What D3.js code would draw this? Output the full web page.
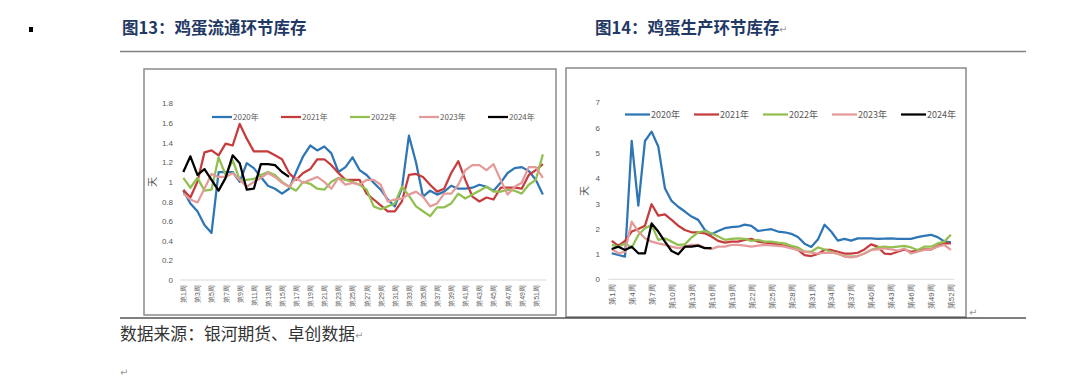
<!DOCTYPE html>
<html>
<head>
<meta charset="utf-8">
<script src="https://cdn.jsdelivr.net/npm/d3@7/dist/d3.min.js"></script>
<style>
  body { margin: 0; background: #fff; }
  svg { display: block; font-family: "Noto Sans CJK SC", "Noto Sans", sans-serif; }
</style>
</head>
<body>
<svg id="page" width="1080" height="380"></svg>
<script>
// weeks 1..52
const weeks = d3.range(1, 53);
const years = ["2020年", "2021年", "2022年", "2023年", "2024年"];
const colors = ["#2e75b6", "#c63c3c", "#92c050", "#e59a9a", "#000000"];

// 图13 鸡蛋流通环节库存 (天)
const flow2020 = [0.91,0.78,0.70,0.56,0.48,1.10,1.10,1.10,1.00,1.19,1.14,1.05,0.96,0.93,0.88,0.93,1.10,1.26,1.37,1.32,1.36,1.29,1.10,1.15,1.25,1.12,1.07,0.99,0.92,0.82,0.75,0.93,1.47,1.20,0.85,0.91,0.87,0.90,0.96,0.93,0.93,0.94,0.97,0.95,0.91,0.99,1.09,1.14,1.15,1.11,1.02,0.87];
const flow2021 = [0.92,0.84,1.00,1.30,1.32,1.27,1.39,1.37,1.59,1.44,1.31,1.31,1.31,1.27,1.23,1.09,1.02,1.09,1.13,1.23,1.23,1.17,1.09,1.02,1.02,1.02,0.88,0.82,0.76,0.70,0.70,0.80,1.07,1.08,1.05,0.97,0.90,0.93,1.09,1.21,1.02,0.85,0.80,0.84,0.82,0.94,0.94,0.94,0.93,1.07,1.12,1.18];
const flow2022 = [1.04,0.94,1.04,0.91,0.92,1.25,1.07,1.22,1.02,1.02,1.03,1.07,1.10,1.07,1.00,0.95,0.91,1.00,0.98,0.93,0.92,1.00,1.04,1.02,1.00,0.97,0.92,0.75,0.72,0.75,0.78,0.95,0.86,0.75,0.70,0.65,0.74,0.74,0.78,0.88,0.83,0.87,0.91,0.95,0.90,0.90,0.92,0.91,0.88,0.97,1.02,1.28];
const flow2023 = [0.88,0.82,0.79,0.93,1.08,1.05,1.05,1.09,1.02,0.95,1.00,1.04,1.09,1.05,0.99,0.95,1.04,0.99,1.02,1.05,1.00,0.93,1.04,0.97,0.99,0.97,1.02,1.02,0.97,0.80,0.82,0.83,0.87,0.90,0.85,0.75,0.78,0.88,0.88,0.97,1.12,1.17,1.17,1.12,1.18,1.02,0.87,0.95,0.99,1.15,1.15,1.04];
const flow2024 = [1.10,1.26,1.07,1.13,1.02,0.91,1.04,1.27,1.19,0.92,0.93,1.18,1.18,1.17,1.10,1.05];

// 图14 鸡蛋生产环节库存 (天)
const prod2020 = [1.03,0.96,0.90,5.47,2.91,5.47,5.84,5.25,3.60,3.10,2.87,2.68,2.48,2.35,1.95,1.78,1.91,2.02,2.06,2.08,2.16,2.11,1.91,1.95,1.98,1.89,1.86,1.80,1.67,1.41,1.28,1.57,2.16,1.89,1.53,1.60,1.53,1.62,1.62,1.62,1.60,1.61,1.62,1.60,1.60,1.60,1.67,1.72,1.76,1.67,1.50,1.46];
const prod2021 = [1.52,1.32,1.52,1.89,1.99,2.12,2.97,2.52,2.57,2.35,2.12,1.95,1.86,1.86,1.82,1.69,1.52,1.45,1.49,1.49,1.56,1.60,1.49,1.45,1.42,1.38,1.32,1.26,1.16,0.96,0.92,1.00,1.16,1.16,1.09,1.02,1.02,1.05,1.18,1.38,1.29,1.02,1.00,1.09,1.18,1.09,1.13,1.18,1.18,1.32,1.42,1.42];
const prod2022 = [1.36,1.29,1.42,1.25,1.75,2.02,2.15,1.56,1.62,1.49,1.36,1.38,1.65,1.86,1.91,1.82,1.69,1.56,1.60,1.62,1.60,1.52,1.56,1.49,1.49,1.45,1.42,1.32,1.26,1.09,1.09,1.26,1.18,1.09,1.00,0.92,0.90,0.92,1.02,1.16,1.26,1.29,1.26,1.29,1.32,1.26,1.16,1.29,1.29,1.42,1.49,1.76];
const prod2023 = [1.20,1.03,1.09,2.28,1.89,1.62,1.49,1.42,1.36,1.29,1.23,1.29,1.36,1.36,1.25,1.20,1.29,1.29,1.36,1.36,1.33,1.29,1.33,1.36,1.34,1.32,1.29,1.22,1.16,1.09,1.05,1.02,1.05,1.05,1.02,0.90,0.87,0.92,1.02,1.16,1.18,1.22,1.18,1.13,1.22,1.02,1.09,1.16,1.18,1.29,1.36,1.16];
const prod2024 = [1.20,1.29,1.16,1.29,1.03,1.03,2.21,1.89,1.49,1.12,0.99,1.29,1.29,1.33,1.23,1.23];

const flowTicks = [0, 0.2, 0.4, 0.6, 0.8, 1, 1.2, 1.4, 1.6, 1.8];
const prodTicks = [0, 1, 2, 3, 4, 5, 6, 7];

const svg = d3.select("#page");

function drawChart(cfg) {
    const g = svg.append("g");

    // frame
    g.append("rect")
        .attr("x", cfg.frame[0]).attr("y", cfg.frame[1])
        .attr("width", cfg.frame[2]).attr("height", cfg.frame[3])
        .attr("fill", "#fff")
        .attr("stroke", "#8a8a8a")
        .attr("stroke-width", 1.5);

    const x = d3.scalePoint()
        .domain(weeks)
        .range(cfg.xRange)
        .padding(0.5);

    const y = d3.scaleLinear()
        .domain([0, cfg.yMax])
        .range(cfg.yRange);

    // y axis (labels only)
    const yAxis = d3.axisLeft(y)
        .tickValues(cfg.yTicks)
        .tickSize(0)
        .tickPadding(0)
        .tickFormat(d => String(+d.toFixed(1)));

    g.append("g")
        .attr("transform", `translate(${cfg.yLabelX},0)`)
        .call(yAxis)
        .call(s => s.select(".domain").remove())
        .selectAll("text")
        .attr("fill", "#595959")
        .style("font-family", "'Liberation Sans', Arial, sans-serif")
        .style("font-size", cfg.tickFont + "px");

    // x axis
    const xAxis = d3.axisBottom(x)
        .tickValues(weeks.filter((w, i) => i % cfg.labelEvery === 0))
        .tickSize(0)
        .tickFormat(d => "第" + d + "周");

    const xg = g.append("g")
        .attr("transform", `translate(0,${cfg.yRange[0]})`)
        .call(xAxis);
    xg.select(".domain")
        .attr("d", `M${cfg.xRange[0]},0H${cfg.xRange[1]}`)
        .attr("stroke", "#d9d9d9")
        .attr("stroke-width", 1);
    xg.selectAll("text")
        .attr("fill", "#595959")
        .attr("text-anchor", "end")
        .attr("dy", "0.35em")
        .attr("y", 0)
        .attr("transform", "translate(0,5) rotate(-90)")
        .style("font-size", cfg.xFont + "px");

    // axis title
    g.append("text")
        .attr("transform", `translate(${cfg.titlePos[0]},${cfg.titlePos[1]}) rotate(-90)`)
        .attr("text-anchor", "middle")
        .attr("fill", "#595959")
        .style("font-size", "10px")
        .text("天");

    // lines
    const line = d3.line()
        .x((d, i) => x(weeks[i]))
        .y(d => y(d));

    cfg.series.forEach((s, i) => {
        g.append("path")
            .attr("d", line(s))
            .attr("fill", "none")
            .attr("stroke", colors[i])
            .attr("stroke-width", 2.25)
            .attr("stroke-linejoin", "round");
    });

    // legend
    const leg = g.append("g")
        .attr("transform", `translate(${cfg.legend[0]},${cfg.legend[1]})`);
    years.forEach((yr, i) => {
        const lx = i * cfg.legendStep;
        leg.append("line")
            .attr("x1", lx).attr("x2", lx + cfg.legendLine)
            .attr("y1", 0).attr("y2", 0)
            .attr("stroke", colors[i])
            .attr("stroke-width", 2.25);
        leg.append("text")
            .attr("x", lx + cfg.legendLine + 1)
            .attr("y", 0)
            .attr("dy", "0.35em")
            .attr("fill", "#595959")
            .style("font-size", cfg.legendFont + "px")
            .text(yr);
    });
}

drawChart({
    frame: [144, 69, 412, 246],
    xRange: [179.8, 546.4],
    yRange: [280, 103.3],
    yMax: 1.8,
    yTicks: flowTicks,
    yLabelX: 173,
    tickFont: 8,
    xFont: 7,
    labelEvery: 2,
    titlePos: [156, 182],
    series: [flow2020, flow2021, flow2022, flow2023, flow2024],
    legend: [212, 117],
    legendStep: 69,
    legendLine: 20,
    legendFont: 8
});

drawChart({
    frame: [566, 68, 400, 249],
    xRange: [608.4, 954.2],
    yRange: [279.3, 102.3],
    yMax: 7,
    yTicks: prodTicks,
    yLabelX: 600,
    tickFont: 8,
    xFont: 8,
    labelEvery: 3,
    titlePos: [588, 191],
    series: [prod2020, prod2021, prod2022, prod2023, prod2024],
    legend: [625, 114.5],
    legendStep: 69,
    legendLine: 25,
    legendFont: 9
});

// page furniture
svg.append("rect").attr("x", 29).attr("y", 27).attr("width", 4).attr("height", 5).attr("fill", "#000");

svg.append("text")
    .attr("x", 122).attr("y", 34)
    .attr("fill", "#1f3864")
    .style("font-size", "16.5px").style("font-weight", "bold")
    .text("图13：鸡蛋流通环节库存");

svg.append("text")
    .attr("x", 595).attr("y", 34)
    .attr("fill", "#1f3864")
    .style("font-size", "16.5px").style("font-weight", "bold")
    .text("图14：鸡蛋生产环节库存");

svg.append("line")
    .attr("x1", 120).attr("x2", 1026).attr("y1", 51.5).attr("y2", 51.5)
    .attr("stroke", "#7f7f7f").attr("stroke-width", 1.5);

svg.append("line")
    .attr("x1", 120).attr("x2", 1026).attr("y1", 318).attr("y2", 318)
    .attr("stroke", "#000").attr("stroke-width", 1);

svg.append("text")
    .attr("x", 120).attr("y", 340)
    .attr("fill", "#333")
    .style("font-size", "16.8px")
    .text("数据来源：银河期货、卓创数据");

const marks = [[779, 33], [355, 339], [969, 316], [120, 376]];
marks.forEach(m => {
    svg.append("text")
        .attr("x", m[0]).attr("y", m[1])
        .attr("fill", "#9a9a9a")
        .style("font-family", "'DejaVu Sans', sans-serif")
        .style("font-size", "10px")
        .text("↵");
});
</script>
</body>
</html>
